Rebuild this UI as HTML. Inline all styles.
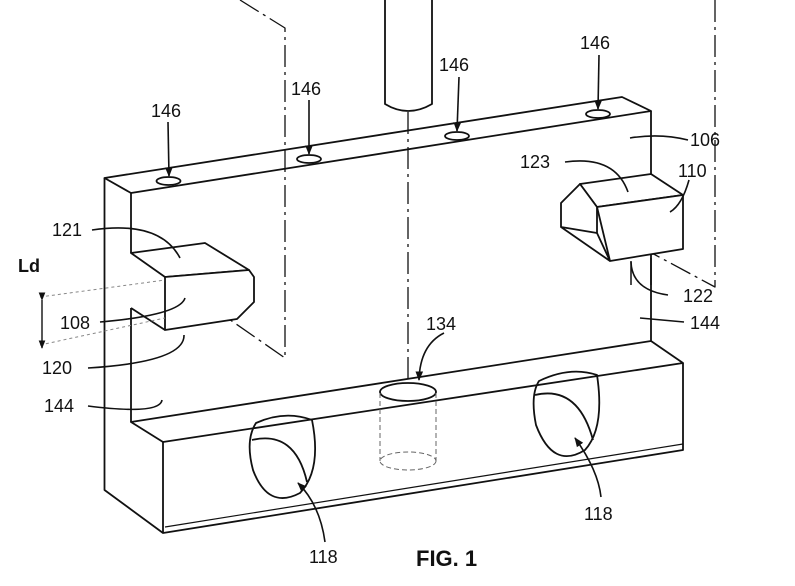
<!DOCTYPE html>
<html><head><meta charset="utf-8"><style>
html,body{margin:0;padding:0;background:#fff}
svg{display:block}
text{font-family:"Liberation Sans",Arial,sans-serif;font-size:18px;fill:#111}
</style></head><body>
<svg width="795" height="586" viewBox="0 0 795 586" xmlns="http://www.w3.org/2000/svg">
<defs><marker id="a" viewBox="0 0 10 10" refX="9" refY="5" markerWidth="6" markerHeight="6" orient="auto"><path d="M0,1 L10,5 L0,9 z" fill="#111"/></marker></defs>
<g fill="none" stroke="#111" stroke-width="1.8" stroke-linejoin="round">
<!-- dash-dot lines -->
<g stroke-width="1.3" stroke-dasharray="22,5,3,5">
<path d="M240,0 L285,28 L285,358 L190,292"/>
<path d="M715,0 L715,287 L620,236"/>
<path d="M408,112 L408,392"/>
</g>
<!-- pillar -->
<path d="M385,0 L385,104 Q408,118 432,104 L432,0" fill="#fff"/>
<!-- plate top face -->
<path d="M104.5,178 L622,97 L651,111 L131,193 Z"/>
<!-- plate outer left and bottom -->
<path d="M104.5,178 L104.5,490 L163,533"/>
<path d="M131,193 L131,253"/>
<path d="M131,308 L131,422"/>
<path d="M651,111 L651,341"/>
<!-- holes 146 -->
<ellipse cx="168.5" cy="181" rx="12" ry="4"/>
<ellipse cx="309" cy="159" rx="12" ry="4"/>
<ellipse cx="457" cy="136" rx="12" ry="4"/>
<ellipse cx="598" cy="114" rx="12" ry="4"/>
<!-- base block -->
<path d="M131,422 L651,341 L683,363 L163,442 Z"/>
<path d="M163,442 L163,533 L683,450 L683,363"/>
<path d="M165,527 L683,444" stroke-width="1.2"/>
<!-- hole 134 -->
<ellipse cx="408" cy="392" rx="28" ry="9" fill="#fff"/>
<g stroke-width="1" stroke-dasharray="5,3" stroke="#666">
<path d="M380,393 L380,461 M436,393 L436,461"/>
<ellipse cx="408" cy="461" rx="28" ry="9"/>
</g>
<!-- ovals 118 -->
<path d="M256,423 Q285,410 312,420 Q322,470 300,493 Q268,510 253,470 Q245,440 256,423 Z"/>
<path d="M252,440 Q295,430 307,482"/>
<path d="M539,381 Q570,366 597,375 Q605,428 585,450 Q553,470 536,425 Q530,395 539,381 Z"/>
<path d="M535,395 Q578,385 593,440"/>
<!-- left block 108 -->
<path d="M131,253 L205,243 L249,270 L165,277 Z" fill="#fff"/>
<path d="M165,277 L249,270 L254,277 L254,302 L237,319 L165,330 Z" fill="#fff"/>
<path d="M131,308 L165,330"/>
<!-- right block 110 -->
<path d="M580,184 L651,174 L683,195 L597,207 Z" fill="#fff"/>
<path d="M597,207 L683,195 L683,249 L610,261 Z" fill="#fff"/>
<path d="M580,184 L561,203 L561,227 L597,233 L597,207 Z" fill="#fff"/>
<path d="M597,233 L610,261 M561,227 L610,261"/>
<path d="M631,261 L631,285 M651,258 L651,285" stroke-width="1.5"/>
</g>
<g stroke="#111" stroke-width="1.6" fill="none">
<!-- Ld dims -->
<path d="M40,297 L165,280 M40,345 L165,318" stroke="#888" stroke-width="1" stroke-dasharray="3,3"/>
<path d="M42,300 L42,348" marker-start="url(#a)" marker-end="url(#a)" stroke-width="1.4"/>
<!-- leaders -->
<path d="M168,122 L169,176" marker-end="url(#a)"/>
<path d="M309,100 L309,154" marker-end="url(#a)"/>
<path d="M459,77 L457,131" marker-end="url(#a)"/>
<path d="M599,55 L598,109" marker-end="url(#a)"/>
<path d="M688,140 Q660,133 630,138"/>
<path d="M565,162 Q615,155 628,192"/>
<path d="M689,180 Q682,205 670,212"/>
<path d="M92,230 Q160,220 180,258"/>
<path d="M100,322 Q180,315 185,298"/>
<path d="M88,368 Q185,362 184,335"/>
<path d="M88,406 Q160,415 162,400"/>
<path d="M684,322 L640,318"/>
<path d="M668,295 Q632,290 631,262"/>
<path d="M444,333 Q420,345 419,380" marker-end="url(#a)"/>
<path d="M325,542 Q320,505 298,483" marker-end="url(#a)"/>
<path d="M601,497 Q598,470 575,438" marker-end="url(#a)"/>
</g>
<text x="151" y="117">146</text>
<text x="291" y="95">146</text>
<text x="439" y="71">146</text>
<text x="580" y="49">146</text>
<text x="690" y="146">106</text>
<text x="520" y="168">123</text>
<text x="678" y="177">110</text>
<text x="52" y="236">121</text>
<text x="18" y="272" style="font-weight:bold">Ld</text>
<text x="60" y="329">108</text>
<text x="42" y="374">120</text>
<text x="44" y="412">144</text>
<text x="683" y="302">122</text>
<text x="690" y="329">144</text>
<text x="426" y="330">134</text>
<text x="309" y="563">118</text>
<text x="584" y="520">118</text>
<text x="416" y="566" style="font-size:22px;font-weight:bold">FIG. 1</text>
</svg>
</body></html>
